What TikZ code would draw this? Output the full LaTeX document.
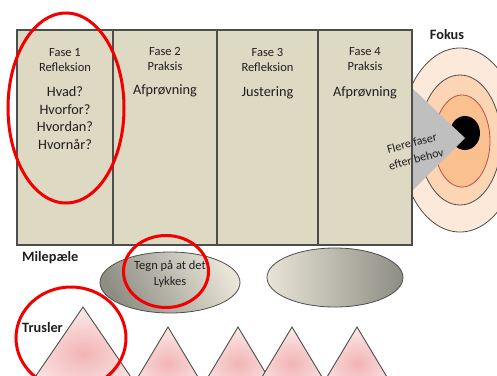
\documentclass[tikz,border=0pt]{standalone}
\usepackage{fontspec}
\setmainfont{Carlito}
\usepackage{xcolor}
\usepackage{tikz}
\usetikzlibrary{positioning,shapes.geometric,shadings}
\definecolor{Ink}{HTML}{1F1F1F}
\definecolor{Panel}{HTML}{DDD9C3}
\definecolor{Edge}{HTML}{4D4D4D}
\definecolor{Alarm}{HTML}{F20000}
\definecolor{RingOut}{HTML}{FDE9D9}
\definecolor{RingMid}{HTML}{FCD5B5}
\definecolor{RingIn}{HTML}{FAC08F}
\definecolor{RingRim}{HTML}{C0504D}
\definecolor{Pointer}{HTML}{BFBFBF}
\definecolor{StoneDark}{HTML}{8E8D84}
\definecolor{StoneLight}{HTML}{E8E5D7}
\definecolor{PinkCore}{HTML}{F2B4B5}
\definecolor{PinkRim}{HTML}{FCEAEA}

\begin{document}
\begin{tikzpicture}[
  x=1pt,y=-1pt,
  panel/.style={draw=Edge,fill=Panel,line width=1.2pt,minimum height=215pt,inner sep=0pt,outer sep=0pt},
  head/.style={align=center,inner sep=0pt,text=Ink,font=\fontsize{12.5}{15}\selectfont},
  body/.style={align=center,inner sep=0pt,text=Ink,font=\fontsize{14.3}{17.6}\selectfont},
  tag/.style={inner sep=0pt,text=Ink,font=\bfseries\fontsize{14.3}{17}\selectfont},
  milestone/.style={ellipse,draw=Edge,line width=0.8pt,inner sep=0pt},
  threat/.style={draw=Edge,line width=0.9pt,inner color=PinkCore,outer color=PinkRim},
  redloop/.style={draw=Alarm,line width=3pt}
]
  \useasboundingbox (0,0) rectangle (497,375);
  \clip (0,0) rectangle (497,375);

  % target
  \filldraw[fill=RingOut,draw=Edge,line width=0.8pt] (460,140) ellipse [x radius=60,y radius=92];
  \filldraw[fill=RingMid,draw=Edge,line width=0.8pt] (460,140) ellipse [x radius=41,y radius=65];
  \filldraw[fill=RingIn,draw=RingRim,line width=0.8pt] (462,141) ellipse [x radius=28,y radius=46];
  \fill[black] (465,133) ellipse [x radius=15,y radius=17];
  \fill[Pointer] (412,88) -- (465,138) -- (412,191) -- cycle;

  % phases
  \node[panel,minimum width=96pt,anchor=north west] (p1) at (17,30) {};
  \node[panel,minimum width=104pt,right=0pt of p1] (p2) {};
  \node[panel,minimum width=101pt,right=0pt of p2] (p3) {};
  \node[panel,minimum width=94pt,right=0pt of p3] (p4) {};

  \node[head,below=18pt of p1.north] (h1) {Fase 1\\Refleksion};
  \node[body,below=15pt of h1] (b1) {Hvad?\\Hvorfor?\\Hvordan?\\Hvornår?};
  \node[head,below=17pt of p2.north] (h2) {Fase 2\\Praksis};
  \node[body,below=14pt of h2] (b2) {Afprøvning};
  \node[head,below=18pt of p3.north] (h3) {Fase 3\\Refleksion};
  \node[body,below=15pt of h3] (b3) {Justering};
  \node[head,below=17pt of p4.north] (h4) {Fase 4\\Praksis};
  \node[body,below=16pt of h4] (b4) {Afprøvning};

  \node[head,rotate=15,font=\fontsize{12}{16.5}\selectfont] (more) at (414,151) {Flere faser\\efter behov};
  \node[tag] (fokus) at (447,35) {Fokus};

  % milestones
  \node[tag,anchor=west] (mile) at (22,258) {Milepæle};
  \node[milestone,minimum width=140pt,minimum height=61pt,top color=StoneLight,bottom color=StoneDark,shading angle=-60] (ms1) at (170,282.5) {};
  \node[milestone,minimum width=136pt,minimum height=59pt,left color=StoneLight,right color=StoneDark] (ms2) at (335,277.5) {};
  \node[head,font=\fontsize{12.5}{16}\selectfont] (tegn) at ([yshift=8.5pt]ms1.center) {Tegn på at det\\Lykkes};

  % threats
  \node[tag,anchor=west] (trus) at (22,328) {Trusler};
  \path[threat] (83,307) -- (83+0.684*93,400) -- (83-0.684*93,400) -- cycle;
  \foreach \ax in {168,238,292,357}
    \path[threat] (\ax,327) -- (\ax+0.6*73,400) -- (\ax-0.6*73,400) -- cycle;

  % red rings
  \draw[redloop] (66,108) ellipse [x radius=58,y radius=95];
  \draw[redloop] (166,271.5) ellipse [x radius=42.5,y radius=36];
  \draw[redloop] (71,338) ellipse [x radius=55,y radius=51];
\end{tikzpicture}
\end{document}
